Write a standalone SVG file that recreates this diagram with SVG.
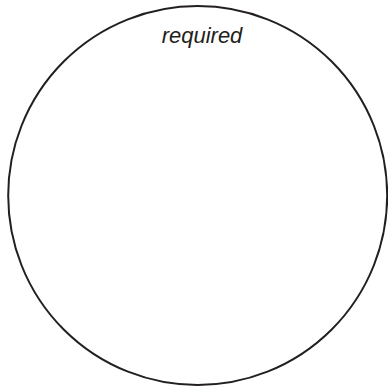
<svg xmlns="http://www.w3.org/2000/svg" width="388" height="390" viewBox="0 0 388 390">
<style>
.outline{fill:none;stroke:#231f20;stroke-width:2}
.lbl{font-family:"Liberation Sans",Arial,sans-serif;font-style:italic;font-size:22px;fill:#231f20}
</style>
<rect width="388" height="390" fill="#ffffff"/>
<g id="circle">
<circle class="outline" cx="197.7" cy="195.5" r="189.5"/>
<text class="lbl" x="202" y="43" text-anchor="middle">required</text>
</g>
</svg>
